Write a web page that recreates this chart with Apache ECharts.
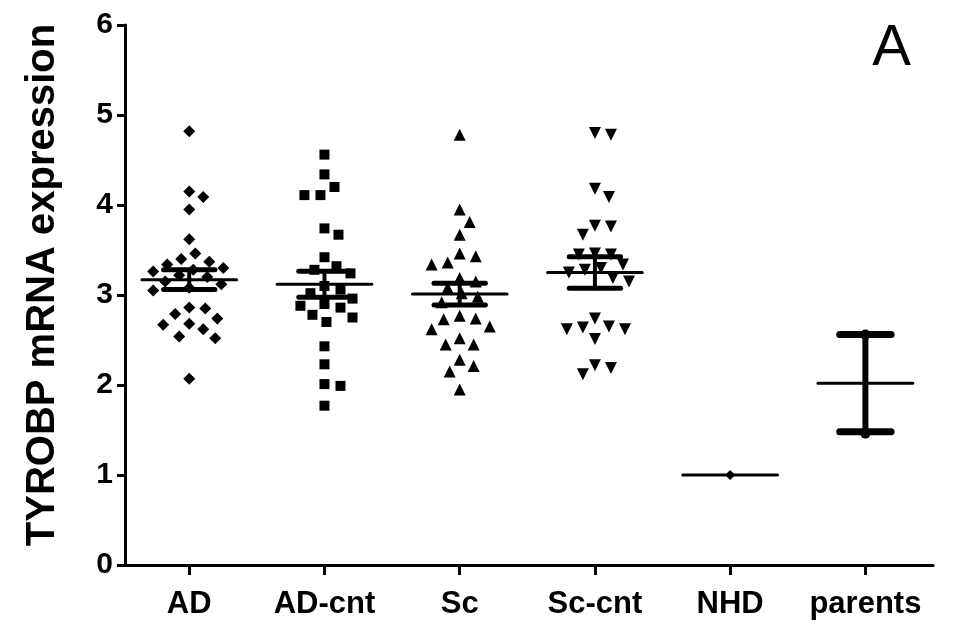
<!DOCTYPE html>
<html>
<head>
<meta charset="utf-8">
<script src="https://cdn.jsdelivr.net/npm/echarts@6/dist/echarts.min.js"></script>
<style>
  html, body { margin: 0; padding: 0; background: #fff; }
  #chart { width: 953px; height: 632px; }
</style>
</head>
<body>
<div id="chart"></div>
<script>
'use strict';

var groups = ['AD', 'AD-cnt', 'Sc', 'Sc-cnt', 'NHD', 'parents'];

var adValues = [4.82, 4.15, 4.09, 3.95, 3.62, 3.46, 3.40, 3.37, 3.34, 3.30, 3.28, 3.26, 3.22, 3.20,
    3.15, 3.12, 3.08, 3.05, 2.85, 2.86, 2.79, 2.74, 2.67, 2.68, 2.62, 2.54, 2.52, 2.07];
var adCntValues = [4.56, 4.34, 4.20, 4.11, 4.11, 3.74, 3.67, 3.42, 3.32, 3.28, 3.24, 3.10, 3.06,
    3.02, 2.96, 2.90, 2.88, 2.86, 2.78, 2.75, 2.70, 2.43, 2.23, 2.01, 1.99, 1.77];
var scValues = [4.78, 3.95, 3.81, 3.67, 3.46, 3.43, 3.36, 3.34, 3.19, 3.15, 3.08, 3.02, 2.98, 2.92,
    2.77, 2.73, 2.65, 2.74, 2.62, 2.52, 2.45, 2.45, 2.28, 2.21, 2.15, 1.95];
var scCntValues = [4.80, 4.78, 4.18, 4.09, 3.77, 3.76, 3.67, 3.46, 3.45, 3.45, 3.34, 3.30, 3.28,
    3.25, 3.19, 3.15, 2.74, 2.65, 2.64, 2.62, 2.62, 2.51, 2.22, 2.19, 2.12];
var nhdValues = [1.0];
var parentsValues = [2.56, 1.46];

// mean and SEM
var means = [3.17, 3.12, 3.01, 3.25, 1.0, 2.02];
var sems = [0.11, 0.145, 0.12, 0.175, 0, 0.54];

var yTicks = [0, 1, 2, 3, 4, 5, 6];

// beeswarm layout (pixels per unit of each axis)
var X_PX = 135, Y_PX = 90, DIAM = 15, STEP = 2;
function swarm(vals, center) {
    var placed = [];
    return vals.slice().sort(function(a, b) { return b - a; }).map(function(v) {
        var y = v * Y_PX, k = 0, dx = 0;
        while (true) {
            dx = (k % 2 ? 1 : -1) * Math.ceil(k / 2) * STEP;
            var ok = placed.every(function(p) {
                return Math.sqrt((p[0] - dx) * (p[0] - dx) + (p[1] - y) * (p[1] - y)) >= DIAM;
            });
            if (ok) break;
            k++;
        }
        placed.push([dx, y]);
        return [center + dx / X_PX, v];
    });
}

var font = '"Liberation Sans", Arial, sans-serif';
var chart = echarts.init(document.getElementById('chart'));

function pointSeries(vals, idx, symbol, size) {
    return {
        type: 'scatter',
        data: swarm(vals, idx),
        symbol: symbol,
        symbolSize: size,
        itemStyle: { color: '#000', opacity: 1 },
        silent: true,
        z: 2
    };
}

chart.setOption({
    animation: false,
    backgroundColor: '#fff',
    grid: { left: 125, right: 20, top: 25, bottom: 67 },
    xAxis: {
        type: 'value',
        min: -0.475,
        max: 5.5,
        splitLine: { show: false },
        axisLine: { lineStyle: { color: '#000', width: 3 } },
        axisTick: {
            show: true,
            customValues: [0, 1, 2, 3, 4, 5],
            length: 10,
            lineStyle: { color: '#000', width: 3 }
        },
        axisLabel: {
            customValues: [0, 1, 2, 3, 4, 5],
            formatter: function(v) { return groups[Math.round(v)]; },
            margin: 24,
            color: '#000',
            fontFamily: font,
            fontWeight: 'bold',
            fontSize: 31
        }
    },
    yAxis: {
        type: 'value',
        min: 0,
        max: 6,
        interval: 1,
        name: 'TYROBP mRNA expression',
        nameLocation: 'middle',
        nameGap: 62,
        nameTextStyle: { color: '#000', fontFamily: font, fontWeight: 'bold', fontSize: 40, padding: [0, 0, 0, 20] },
        splitLine: { show: false },
        axisLine: { show: true, onZero: false, lineStyle: { color: '#000', width: 3 } },
        axisTick: { show: true, length: 8, lineStyle: { color: '#000', width: 3 } },
        axisLabel: {
            customValues: yTicks,
            margin: 12,
            color: '#000',
            fontFamily: font,
            fontWeight: 'bold',
            fontSize: 30
        }
    },
    graphic: [{
        type: 'text',
        right: 42,
        top: 20,
        style: { text: 'A', font: '58px ' + font, fill: '#000' }
    }],
    series: [
        pointSeries(adValues, 0, 'diamond', 12),
        pointSeries(adCntValues, 1, 'rect', 10),
        pointSeries(scValues, 2, 'triangle', 12),
        pointSeries(scCntValues, 3, 'path://M0,0L10,0L5,9Z', 12),
        pointSeries(nhdValues, 4, 'diamond', 10),
        pointSeries(parentsValues, 5, 'circle', 10),
        {
            type: 'custom',
            silent: true,
            z: 5,
            data: groups.map(function(g, i) { return [i, means[i], sems[i]]; }),
            renderItem: function(params, api) {
                var i = api.value(0), m = api.value(1), s = api.value(2);
                var line = function(a, b, w) {
                    var p1 = api.coord(a), p2 = api.coord(b);
                    return {
                        type: 'line',
                        shape: { x1: p1[0], y1: p1[1], x2: p2[0], y2: p2[1] },
                        style: { stroke: '#000', lineWidth: w, lineCap: 'round' }
                    };
                };
                var big = s > 0.3;
                var children = [line([i - 0.35, m], [i + 0.35, m], 3)];
                if (s > 0) {
                    children.push(line([i, m - s], [i, m + s], big ? 6 : 4));
                    children.push(line([i - 0.19, m + s], [i + 0.19, m + s], big ? 7 : 5));
                    children.push(line([i - 0.19, m - s], [i + 0.19, m - s], big ? 7 : 5));
                }
                return { type: 'group', children: children };
            }
        }
    ]
});
</script>
</body>
</html>
